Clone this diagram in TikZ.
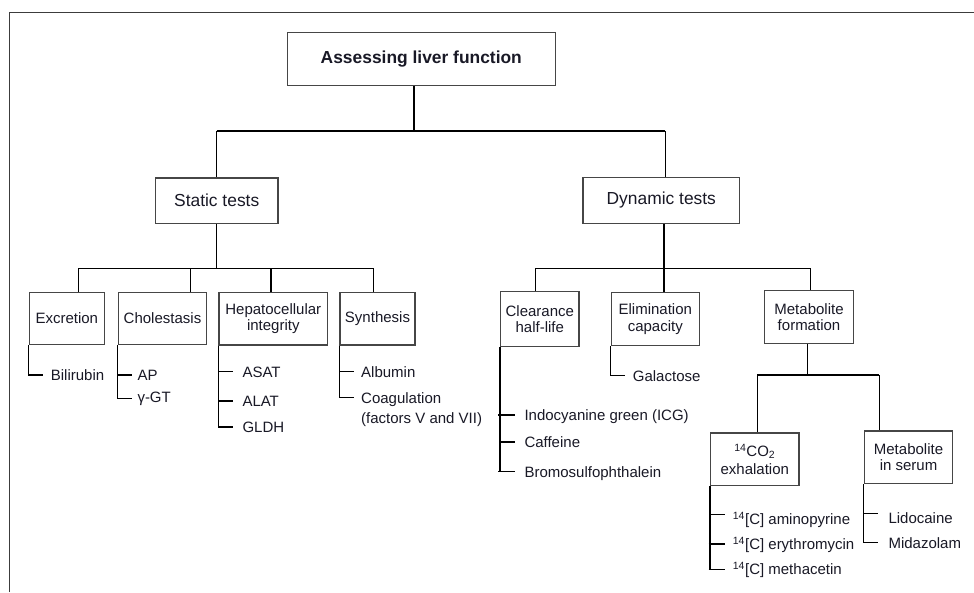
\documentclass[tikz,border=0pt]{standalone}
\usepackage{fontspec}
\setmainfont{Liberation Sans}
\definecolor{boxc}{RGB}{70,70,70}
\definecolor{txt}{RGB}{25,25,38}
\definecolor{framec}{RGB}{60,60,60}
\begin{document}
\begin{tikzpicture}[x=1pt,y=-1pt,
  box/.style={draw=boxc, line width=1.3pt, inner sep=0pt, align=center, text=txt, fill=white,
              font=\fontsize{15}{16.5}\selectfont},
  bigbox/.style={box, font=\fontsize{17.4}{20}\selectfont},
  leaf/.style={anchor=west, inner sep=0pt, text height=11pt, text depth=0pt, text=txt,
               font=\fontsize{15}{18}\selectfont},
  con/.style={line width=1.1pt, draw=black}]
\useasboundingbox (0,0) rectangle (974,592);
\fill[white] (0,0) rectangle (974,592);
% frame
\draw[framec, line width=1.3pt] (9.7,592) -- (9.7,12.7) -- (974,12.7);

% boxes
\node[bigbox, minimum width=268, minimum height=53.4, font=\bfseries\fontsize{17.4}{20}\selectfont] (title) at (421.3,59) {Assessing liver function};
\node[bigbox, minimum width=122.7, minimum height=45.3] (static) at (216.7,200.7) {Static tests};
\node[bigbox, minimum width=156.7, minimum height=46] (dyn) at (661.3,200.3) {Dynamic tests};

\node[box, minimum width=75, minimum height=52] (exc) at (66.8,318.3) {Excretion};
\node[box, minimum width=88.4, minimum height=52] (chol) at (162.5,318.3) {Cholestasis};
\node[box, minimum width=108.7, minimum height=52.7] (hep) at (273.3,318.7) {Hepatocellular\\integrity};
\node[box, minimum width=75, minimum height=52.7] (syn) at (377.5,318.7) {Synthesis};

\node[box, minimum width=78.3, minimum height=55.4] (clr) at (539.8,319) {Clearance\\half-life};
\node[box, minimum width=88, minimum height=52.6] (elim) at (655.3,319) {Elimination\\capacity};
\node[box, minimum width=88.6, minimum height=52.6] (metf) at (809,317) {Metabolite\\formation};
\node[box, minimum width=88.3, minimum height=52.7, font=\fontsize{15}{18}\selectfont] (co2) at (754.8,459.3) {\textsuperscript{14}CO\textsubscript{2}\\exhalation};
\node[box, minimum width=88.4, minimum height=52.6] (ser) at (908.5,457.3) {Metabolite\\in serum};

% junction coordinates
\coordinate (j0) at (414,131);
\coordinate (js) at (216.7,131);
\coordinate (jd) at (665.3,131);
\coordinate (s0) at (216.7,268.3);
\coordinate (s1) at (78.7,268.3);
\coordinate (s2) at (190.3,268.3);
\coordinate (s3) at (271,268.3);
\coordinate (s4) at (373.3,268.3);
\coordinate (d0) at (664,268.3);
\coordinate (d1) at (535.7,268.3);
\coordinate (d3) at (810.7,268.3);
\coordinate (m0) at (807.7,375);
\coordinate (m1) at (757.3,375);
\coordinate (m2) at (879.3,375);

% tree connectors
\draw[con] (title.south -| j0) -- (j0);
\draw[con] (js) -- (jd);
\draw[con] (js) -- (static.north);
\draw[con] (jd) -- (dyn.north -| jd);

\draw[con] (static.south) -- (s0);
\draw[con] (s1) -- (s4);
\draw[con] (s1) -- (exc.north -| s1);
\draw[con] (s2) -- (chol.north -| s2);
\draw[con] (s3) -- (hep.north -| s3);
\draw[con] (s4) -- (syn.north -| s4);

\draw[con] (dyn.south -| d0) -- (d0);
\draw[con] (d1) -- (d3);
\draw[con] (d1) -- (clr.north -| d1);
\draw[con] (d0) -- (elim.north -| d0);
\draw[con] (d3) -- (metf.north -| d3);

\draw[con] (metf.south -| m0) -- (m0);
\draw[con] (m1) -- (m2);
\draw[con] (m1) -- (co2.north -| m1);
\draw[con] (m2) -- (ser.north -| m2);

% leaves
\node[leaf] (bili) at (50.7,375) {Bilirubin};
\node[leaf] (ap) at (137.3,375) {AP};
\node[leaf] (ggt) at (137.3,397) {γ-GT};
\node[leaf] (asat) at (242.3,371.7) {ASAT};
\node[leaf] (alat) at (242.3,401) {ALAT};
\node[leaf] (gldh) at (242.3,427) {GLDH};
\node[leaf] (alb) at (361,371.7) {Albumin};
\node[leaf] (coag) at (361,397.8) {Coagulation};
\node[leaf] (fac) at (361,418) {(factors V and VII)};

\node[leaf] (icg) at (524.3,415) {Indocyanine green (ICG)};
\node[leaf] (caf) at (524.3,442) {Caffeine};
\node[leaf] (bsp) at (524.3,471.8) {Bromosulfophthalein};
\node[leaf] (gal) at (632.7,375.7) {Galactose};

\node[leaf] (amino) at (732.7,519.3) {\textsuperscript{14}[C] aminopyrine};
\node[leaf] (ery) at (732.7,544) {\textsuperscript{14}[C] erythromycin};
\node[leaf] (meth) at (732.7,569.3) {\textsuperscript{14}[C] methacetin};
\node[leaf] (lido) at (888.3,518.3) {Lidocaine};
\node[leaf] (mida) at (888.3,542.7) {Midazolam};

% leaf connectors
\draw[con] (exc.south west) |- ([xshift=-7.4]bili.west);

\draw[con] (ap.west -| chol.south west) -- ([xshift=-5]ap.west);
\draw[con] (chol.south west) |- ([xshift=-5,yshift=-1.3]ggt.west);

\draw[con] (asat.west -| hep.south west) -- ([xshift=-9.3]asat.west);
\draw[con] (alat.west -| hep.south west) -- ([xshift=-9.3]alat.west);
\draw[con] (hep.south west) |- ([xshift=-9.3]gldh.west);

\draw[con] (alb.west -| syn.south west) -- ([xshift=-7]alb.west);
\draw[con] (syn.south west) |- ([xshift=-7]coag.west);

\draw[con] ([xshift=-2]icg.west -| clr.south west) -- ([xshift=-9.3]icg.west);
\draw[con] (caf.west -| clr.south west) -- ([xshift=-9.3]caf.west);
\draw[con] (clr.south west) |- ([xshift=-9.3]bsp.west);
\draw[con] ([xshift=-2]bsp.west -| clr.south west) -- ([xshift=-9.3]bsp.west);

\draw[con] (elim.south west) |- ([xshift=-7.4]gal.west);

\draw[con] ([yshift=4.6]amino.west -| co2.south west) -- ([xshift=-8,yshift=4.6]amino.west);
\draw[con] ([xshift=-1.5]ery.west -| co2.south west) -- ([xshift=-8]ery.west);
\draw[con] (co2.south west) |- ([xshift=-8]meth.west);
\draw[con] ([xshift=-1.5]meth.west -| co2.south west) -- ([xshift=-8]meth.west);

\draw[con] ([yshift=5]lido.west -| ser.south west) -- ([xshift=-10,yshift=5]lido.west);
\draw[con] (ser.south west) |- ([xshift=-10]mida.west);
\end{tikzpicture}
\end{document}
